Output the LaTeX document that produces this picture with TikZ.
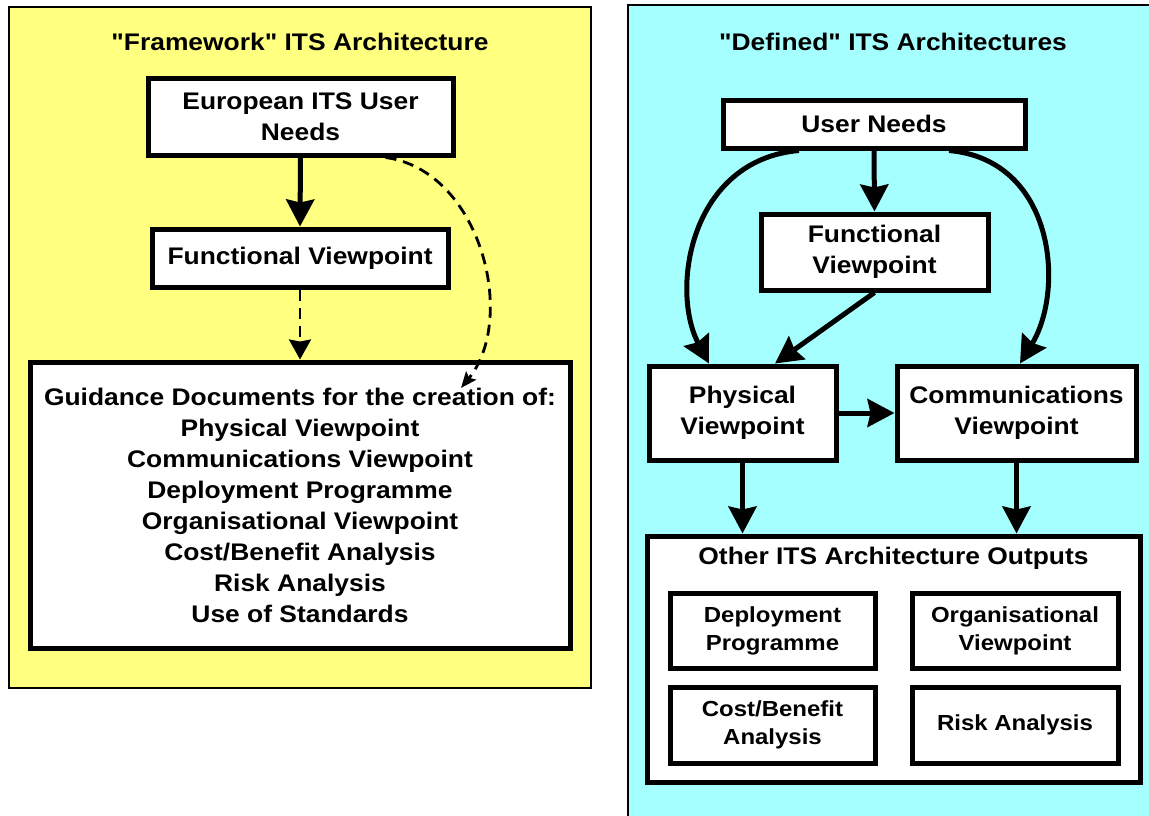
\documentclass[tikz,border=0pt]{standalone}
\usepackage{fontspec}
\newfontfamily\lab{Liberation Sans}[FakeStretch=1.1]
\usetikzlibrary{arrows.meta}
\definecolor{panelyellow}{RGB}{255,255,128}
\definecolor{panelcyan}{RGB}{166,255,255}
\begin{document}
\begin{tikzpicture}[x=1pt,y=-1pt,
  every node/.style={font=\lab\bfseries\fontsize{24}{31}\selectfont, align=center, inner sep=0pt},
  panel/.style={draw=black, line width=2pt},
  box/.style={draw=black, fill=white, line width=5pt, rectangle},
  smallbox/.style={box, font=\lab\bfseries\fontsize{21.8}{28}\selectfont},
  arr/.style={line width=5pt, -{Stealth[length=27pt,width=28pt,inset=3pt]}},
  darr/.style={line width=2.8pt, dash pattern=on 11pt off 7pt, -{Stealth[length=20pt,width=22pt,inset=2pt]}},
  carr/.style={line width=2.8pt, dash pattern=on 11pt off 7pt, -{Stealth[length=16pt,width=13pt,inset=3pt]}}
]
\useasboundingbox (0,0) rectangle (1149,816);
\clip (0,0) rectangle (1149,816);
% panels
\fill[white] (0,0) rectangle (1149,816);
\draw[panel, fill=panelyellow] (9,7) rectangle (591,688);
\draw[panel, fill=panelcyan] (628,5) rectangle (1175,840);
% left side
\node (titleL) at (300,42) {"Framework" ITS Architecture};
\node[box, minimum width=305pt, minimum height=76pt] (eun) at (300.5,117) {European ITS User\\Needs};
\node[box, minimum width=296pt, minimum height=58pt] (funL) at (300,258) {Functional Viewpoint};
\node[box, minimum width=540pt, minimum height=286pt] (guid) at (300,505)
  {Guidance Documents for the creation of:\\Physical Viewpoint\\Communications Viewpoint\\Deployment Programme\\Organisational Viewpoint\\Cost/Benefit Analysis\\Risk Analysis\\Use of Standards};
\draw[arr] (eun.south) -- (funL.north);
\draw[darr] (funL.south) -- (guid.north);
\coordinate (dtip) at (461,388);
\draw[carr] ([xshift=85pt]eun.south) .. controls (480,170) and (518,318) .. (dtip);
% right side
\node (titleR) at (893,42) {"Defined" ITS Architectures};
\node[box, minimum width=302pt, minimum height=48pt] (un) at (874,124) {User Needs};
\node[box, minimum width=227pt, minimum height=76pt] (funR) at (874.5,252) {Functional\\Viewpoint};
\node[box, minimum width=187pt, minimum height=94pt] (phys) at (742.5,413) {Physical\\Viewpoint};
\node[box, minimum width=239pt, minimum height=94pt] (comm) at (1016.5,413) {Communications\\Viewpoint};
\node[box, minimum width=493pt, minimum height=246pt] (other) at (893.5,659) {};
\node (otitle) at (893.5,558) {Other ITS Architecture Outputs};
\node[smallbox, minimum width=205pt, minimum height=75pt] (dep) at (772.5,630.5) {Deployment\\Programme};
\node[smallbox, minimum width=206pt, minimum height=75pt] (org) at (1015,630.5) {Organisational\\Viewpoint};
\node[smallbox, minimum width=205pt, minimum height=76pt] (cba) at (772.5,725) {Cost/Benefit\\Analysis};
\node[smallbox, minimum width=206pt, minimum height=76pt] (risk) at (1015,725) {Risk Analysis};
\draw[arr] (un.south) -- (funR.north);
\draw[arr] (funR.south) -- ([xshift=32.5pt]phys.north);
\draw[arr] ([xshift=-75pt]un.south) .. controls (690,160) and (670,290) .. ([xshift=-33.5pt]phys.north);
\draw[arr] ([xshift=75pt]un.south) .. controls (1055,160) and (1065,290) .. ([xshift=3.5pt]comm.north);
\draw[arr] (phys.east) -- (comm.west);
\draw[arr] (phys.south) -- (phys.south |- other.north);
\draw[arr] (comm.south) -- (comm.south |- other.north);
\end{tikzpicture}
\end{document}
